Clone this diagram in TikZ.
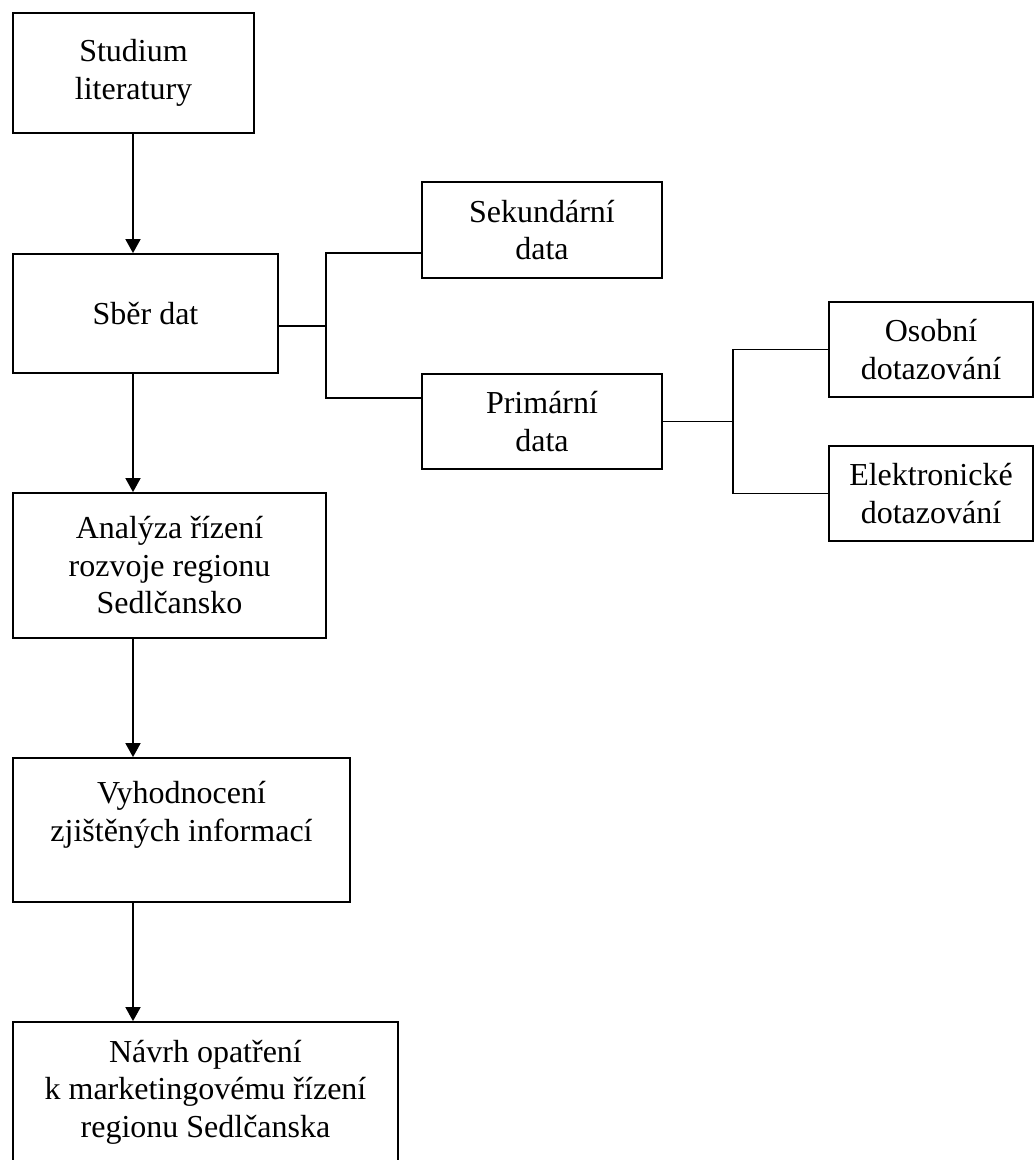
\documentclass[tikz,border=0pt]{standalone}
\usepackage{fontspec}
\setmainfont{Liberation Serif}
\usetikzlibrary{arrows.meta,calc}
\begin{document}
\begin{tikzpicture}[x=1pt,y=-1pt,
  box/.style={draw=black,line width=1.8pt,inner sep=0pt,align=center,
    font=\fontsize{32}{37.5}\selectfont},
  link/.style={draw=black,line width=1.8pt},
  arr/.style={draw=black,line width=1.8pt,-{Triangle[length=14pt,width=15pt]}}]
\useasboundingbox (0,0) rectangle (1035,1160);
\clip (0,0) rectangle (1035,1160);
\node[box,minimum width=241pt,minimum height=120pt] (stud) at (133.5,73) {Studium\\literatury};
\node[box,minimum width=265pt,minimum height=119pt] (sber) at (145.5,313.5) {Sběr dat};
\node[box,minimum width=240pt,minimum height=96pt] (sek) at (542,230) {Sekundární\\data};
\node[box,minimum width=240pt,minimum height=95pt] (prim) at (542,421.5) {Primární\\data};
\node[box,minimum width=204pt,minimum height=95pt] (osob) at (931,349.5) {Osobní\\dotazování};
\node[box,minimum width=204pt,minimum height=95pt] (elek) at (931,493.5) {Elektronické\\dotazování};
\node[box,minimum width=313pt,minimum height=145pt] (anal) at (169.5,565.5) {Analýza řízení\\rozvoje regionu\\Sedlčansko};
\node[box,minimum width=337pt,minimum height=144pt] (vyhod) at (181.5,830) {Vyhodnocení\\zjištěných informací\\\mbox{}};
\node[box,minimum width=385pt,minimum height=140pt] (navrh) at (205.5,1092) {Návrh opatření\\k marketingovému řízení\\regionu Sedlčanska};
% main flow arrows
\coordinate (ax) at (133,0);
\draw[arr] (stud.south -| ax) -- (sber.north -| ax);
\draw[arr] (sber.south -| ax) -- (anal.north -| ax);
\draw[arr] (anal.south -| ax) -- (vyhod.north -| ax);
\draw[arr] (vyhod.south -| ax) -- (navrh.north -| ax);
% branch from Sber dat
\coordinate (j1) at (326,326);
\coordinate (j1a) at (326,253);
\coordinate (j1b) at (326,398);
\draw[link] (sber.east |- j1) -- (j1);
\draw[link] (sek.west |- j1a) -- (j1a) -- (j1b) -- (prim.west |- j1b);
% branch from Primarni data
\coordinate (j2) at (733,421.5);
\draw[link] (prim.east) -- (j2);
\draw[link] (osob.west) -| (j2) |- (elek.west);
\end{tikzpicture}
\end{document}
